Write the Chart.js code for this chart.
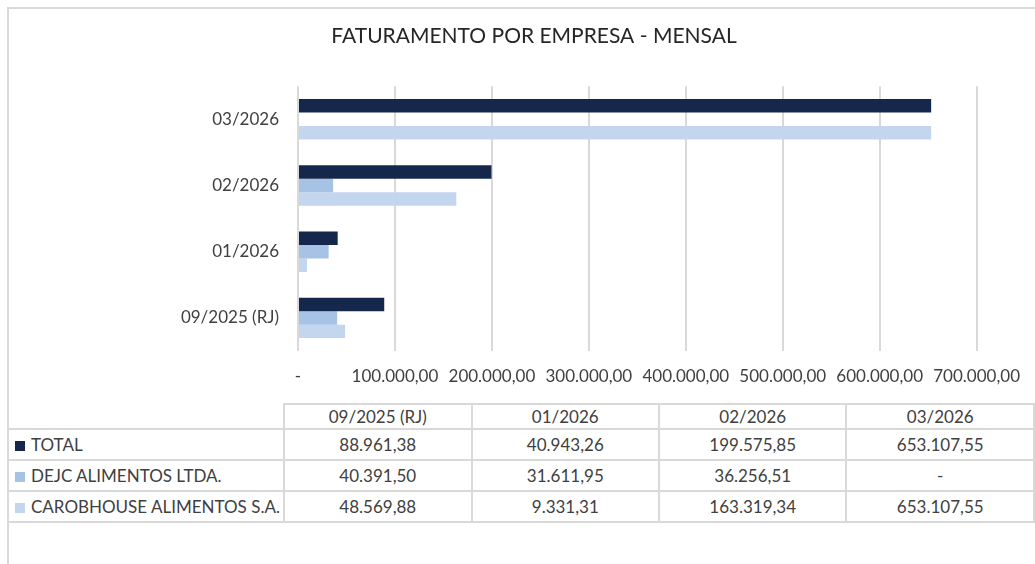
<!DOCTYPE html>
<html>
<head>
<meta charset="utf-8">
<script src="https://cdn.jsdelivr.net/npm/chart.js@4"></script>
<style>
    body { margin: 0; background: #fff; font-family: Lato, sans-serif; color: #404040; }
    #page { position: relative; width: 1035px; height: 564px; overflow: hidden; }
    #frame { position: absolute; left: 7px; top: 7px; width: 1100px; height: 600px;
             border-left: 2px solid #d9d9d9; border-top: 2px solid #d9d9d9; }
    #faturamentoChart { position: absolute; left: 0; top: 0; }
    #dataTable { position: absolute; left: 9px; top: 403px; border-collapse: collapse; font-size: 17px; }
    #dataTable td { border: 2px solid #d9d9d9; text-align: center; padding: 0; white-space: nowrap; }
    #dataTable tr.head td { height: 23px; }
    #dataTable tr.row td { height: 29px; }
    #dataTable td.blank { border: none; border-bottom: 2px solid #d9d9d9; }
    #dataTable td.name { text-align: left; border-left: none; padding-left: 6px; }
    .key { display: inline-block; width: 10px; height: 10px; margin-right: 6px; vertical-align: 0px; }
</style>
</head>
<body>
<div id="page">
    <div id="frame"></div>
    <canvas id="faturamentoChart" width="1035" height="400"></canvas>
    <table id="dataTable"></table>
</div>
<script>
// values (R$)
const periods = ['09/2025 (RJ)', '01/2026', '02/2026', '03/2026'];
const seriesNames = ['TOTAL', 'DEJC ALIMENTOS LTDA.', 'CAROBHOUSE ALIMENTOS S.A.'];
const totalValues = [88961.38, 40943.26, 199575.85, 653107.55];
const dejcValues = [40391.50, 31611.95, 36256.51, 0];
const carobValues = [48569.88, 9331.31, 163319.34, 653107.55];
const chartTitle = 'FATURAMENTO POR EMPRESA - MENSAL';

const seriesColors = ['#15284b', '#a6c3e6', '#c4d5ee'];
const allSeries = [totalValues, dejcValues, carobValues];

// pt-BR number format, zero shown as "-" like Excel accounting
function formatBR(value) {
    if (value === 0) return '-';
    const parts = value.toFixed(2).split('.');
    const intPart = parts[0].replace(/\B(?=(\d{3})+(?!\d))/g, '.');
    return intPart + ',' + parts[1];
}

function buildTable() {
    const table = document.getElementById('dataTable');
    let html = '<tr class="head"><td class="blank" style="width:274px"></td>';
    periods.forEach(p => {
        html += `<td style="width:187px">${p}</td>`;
    });
    html += '</tr>';
    seriesNames.forEach((name, i) => {
        html += `<tr class="row"><td class="name"><span class="key" style="background:${seriesColors[i]}"></span>${name}</td>`;
        allSeries[i].forEach(v => {
            html += `<td>${formatBR(v)}</td>`;
        });
        html += '</tr>';
    });
    table.innerHTML = html;
}

function initChart() {
    // horizontal bars: latest period on top, so reverse copies of the arrays
    const labels = periods.slice().reverse();
    const datasets = seriesNames.map((name, i) => ({
        label: name,
        data: allSeries[i].slice().reverse(),
        backgroundColor: seriesColors[i],
        borderWidth: 0,
        categoryPercentage: 0.61,
        barPercentage: 1
    }));

    const ctx = document.getElementById('faturamentoChart').getContext('2d');
    new Chart(ctx, {
        type: 'bar',
        data: { labels: labels, datasets: datasets },
        options: {
            indexAxis: 'y',
            responsive: false,
            animation: false,
            // left padding also shifts the title centre to where Excel put it
            layout: { padding: { left: 90, right: 57, top: 0, bottom: 0 } },
            plugins: {
                legend: { display: false },
                tooltip: { enabled: false },
                title: {
                    display: true,
                    text: chartTitle,
                    color: '#262626',
                    font: { family: 'Lato', size: 21, weight: 'normal' },
                    padding: { top: 24, bottom: 37 }
                }
            },
            scales: {
                x: {
                    min: 0,
                    max: 700000,
                    border: { display: false },
                    grid: { color: '#d9d9d9', lineWidth: 2, drawTicks: false },
                    ticks: {
                        stepSize: 100000,
                        padding: 15,
                        maxRotation: 0,
                        autoSkip: false,
                        color: '#404040',
                        font: { family: 'Lato', size: 17 },
                        callback: function(value) {
                            return formatBR(value);
                        }
                    },
                    afterFit: function(scale) {
                        scale.height = 49;
                    }
                },
                y: {
                    border: { display: false },
                    grid: { display: false, drawTicks: false },
                    ticks: {
                        padding: 19,
                        color: '#404040',
                        font: { family: 'Lato', size: 17 }
                    },
                    afterFit: function(scale) {
                        scale.width = 208;
                    }
                }
            }
        }
    });
}

buildTable();
initChart();
</script>
</body>
</html>
